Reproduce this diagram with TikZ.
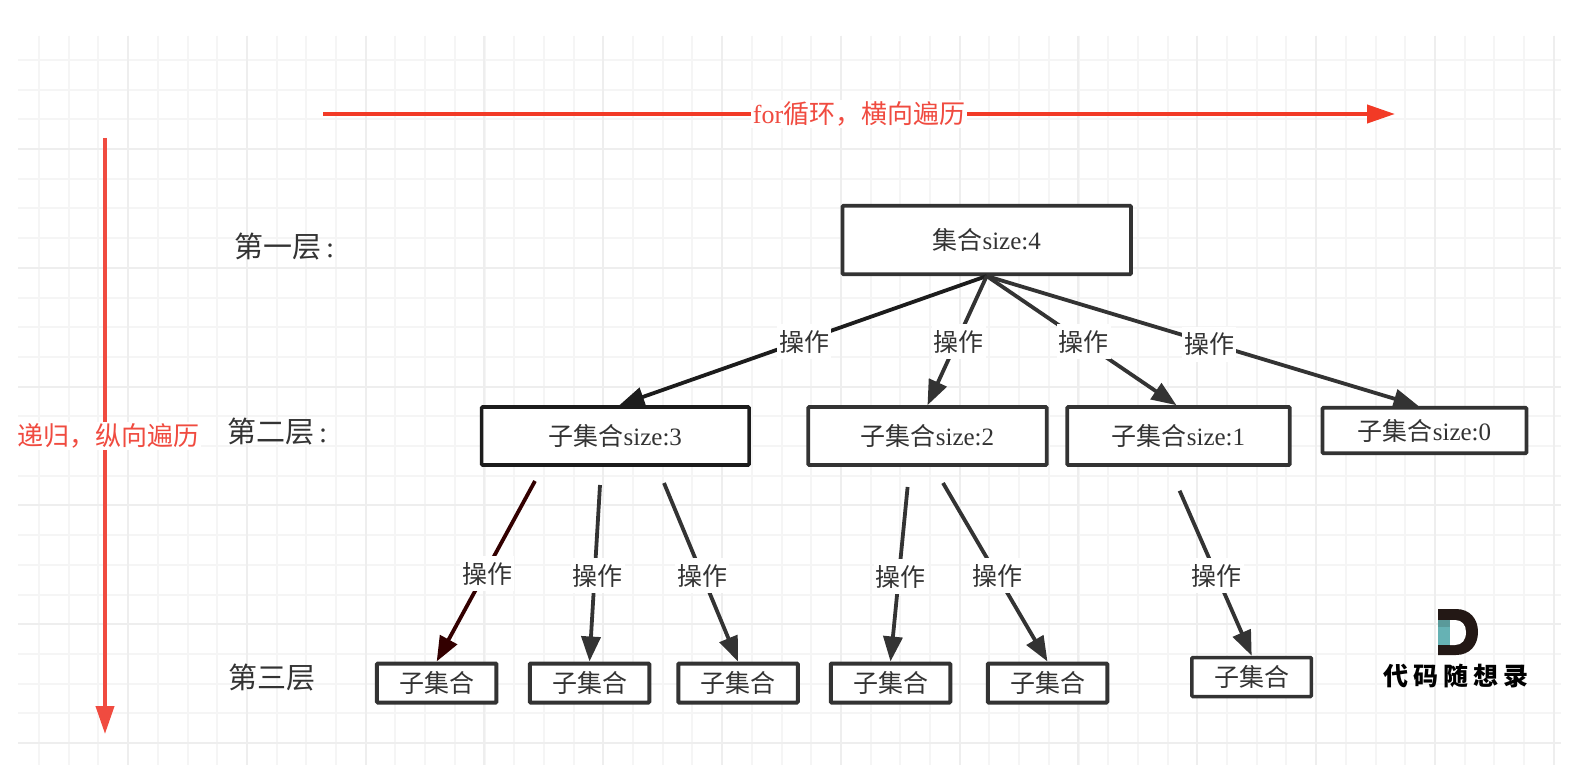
\documentclass[tikz,border=0pt]{standalone}
\usepackage{fontspec}
\setmainfont{Liberation Serif}
\newfontfamily\cjk{Noto Sans CJK SC}
\newfontfamily\logofont[LetterSpace=20]{Noto Sans CJK SC}
\usetikzlibrary{arrows.meta}
\definecolor{edgegray}{HTML}{333333}
\definecolor{edgedark}{HTML}{1C1C1C}
\definecolor{edgemaroon}{HTML}{330000}
\definecolor{redtop}{HTML}{F23A26}
\definecolor{redleft}{HTML}{F04B40}
\definecolor{gridfine}{HTML}{F5F5F5}
\definecolor{gridmajor}{HTML}{EEEEEE}
\definecolor{logodark}{HTML}{231815}
\definecolor{logoteal}{HTML}{66B2B4}
\definecolor{logotealdark}{HTML}{5A9A9A}
\begin{document}
\begin{tikzpicture}[
  x=1pt, y=-1pt,
  setbox/.style={draw=edgegray, fill=white, line width=3.6pt, rounded corners=1pt,
                 inner sep=0pt, text=edgegray, font=\fontsize{25}{28}\selectfont},
  leafbox/.style={setbox, line width=4pt, minimum width=119.5pt, minimum height=39pt},
  lbl/.style={fill=white, text=edgegray, inner sep=0pt, minimum width=54pt, minimum height=35pt,
              font=\fontsize{25}{28}\selectfont\cjk},
  layer/.style={anchor=west, inner sep=0pt, text=edgegray, font=\fontsize{29}{32}\selectfont},
  redlbl/.style={fill=white, inner sep=2pt, text=redleft, font=\fontsize{26}{28}\selectfont},
  arr/.style={-{Triangle[length=25pt,width=19pt]}, line width=3.8pt, draw=edgegray},
  redarr/.style={-{Triangle[length=28pt,width=18pt]}, line width=4pt},
]

\path[use as bounding box, fill=white] (0,0) rectangle (1572,778);

\foreach \gx in {39,68.7,...,1556}
  \draw[gridfine, line width=2pt] (\gx,36) -- (\gx,765);
\foreach \gy in {59.9,89.6,...,765}
  \draw[gridfine, line width=2pt] (18,\gy) -- (1561,\gy);
\foreach \gx in {128,246.8,...,1556}
  \draw[gridmajor, line width=2pt] (\gx,36) -- (\gx,765);
\foreach \gy in {149,267.8,...,765}
  \draw[gridmajor, line width=2pt] (18,\gy) -- (1561,\gy);

\coordinate (forstart) at (323,114);
\coordinate (forend) at (1395,114);
\coordinate (recstart) at (105,138);
\coordinate (recend) at (105,734);

\draw[redarr, draw=redtop, fill=redtop] (forstart) -- (forend)
  node[redlbl, midway] {for{\cjk 循环，横向遍历}};
\draw[redarr, draw=redleft, fill=redleft] (recstart) -- (recend)
  node[redlbl, midway, xshift=3pt] {\cjk 递归，纵向遍历};

\node[layer] (layer1) at (234,247) {{\cjk 第一层}\,:};
\node[layer] (layer2) at (227,432) {{\cjk 第二层}\,:};
\node[layer] (layer3) at (228,678) {\cjk 第三层};

\node[setbox, minimum width=288.5pt, minimum height=68.5pt] (root) at (986.7,240) {{\cjk 集合}size:4};

\node[setbox, draw=edgedark, minimum width=267.5pt, minimum height=58pt] (sub3) at (615.3,436) {{\cjk 子集合}size:3};
\node[setbox, minimum width=238.5pt, minimum height=58pt] (sub2) at (927.5,436) {{\cjk 子集合}size:2};
\node[setbox, minimum width=222.5pt, minimum height=58pt] (sub1) at (1178.5,436) {{\cjk 子集合}size:1};
\node[setbox, minimum width=204pt, minimum height=45.5pt] (sub0) at (1424.5,430.5) {{\cjk 子集合}size:0};

\node[leafbox] (leaf1) at (436.7,683) {\cjk 子集合};
\node[leafbox] (leaf2) at (589.5,683) {\cjk 子集合};
\node[leafbox] (leaf3) at (738,683) {\cjk 子集合};
\node[leafbox] (leaf4) at (890.5,683) {\cjk 子集合};
\node[leafbox] (leaf5) at (1047.5,683) {\cjk 子集合};
\node[leafbox, line width=3.5pt] (leaf6) at (1251.7,677) {\cjk 子集合};

\coordinate (s3a) at (535,481);
\coordinate (s3b) at (600,485);
\coordinate (s3c) at (664,483);
\coordinate (s2a) at (907.6,487);
\coordinate (s2b) at (943,483);
\coordinate (s1a) at (1179.6,490.7);

\draw[arr, draw=edgedark] (root.south) -- ([xshift=4pt]sub3.north) node[lbl, pos=.51, xshift=5pt] {操作};
\draw[arr] (root.south) -- (sub2.north) node[lbl, pos=.51, xshift=2pt] {操作};
\draw[arr] (root.south) -- ([xshift=-2pt]sub1.north) node[lbl, pos=.51] {操作};
\draw[arr] (root.south) -- ([xshift=-6pt]sub0.north) node[lbl, pos=.527, xshift=-5pt] {操作};

\draw[arr, draw=edgemaroon] (s3a) -- (leaf1.north) node[lbl, pos=.514, xshift=3pt] {操作};
\draw[arr] (s3b) -- (leaf2.north) node[lbl, pos=.514, xshift=3pt] {操作};
\draw[arr] (s3c) -- (leaf3.north) node[lbl, pos=.52] {操作};
\draw[arr] (s2a) -- (leaf4.north) node[lbl, pos=.514, xshift=2pt] {操作};
\draw[arr] (s2b) -- (leaf5.north) node[lbl, pos=.52] {操作};
\draw[arr] (s1a) -- (leaf6.north) node[lbl, pos=.516] {操作};

\fill[logodark] (1438,609) -- (1456,609) .. controls (1470,609) and (1478,619) .. (1478,632)
  .. controls (1478,645) and (1470,655) .. (1456,655) -- (1438,655) -- cycle;
\fill[white] (1450,620) -- (1455,620) .. controls (1462,620) and (1466,625) .. (1466,632)
  .. controls (1466,640) and (1462,645) .. (1455,645) -- (1450,645) -- cycle;
\fill[logoteal] (1438,620) rectangle (1450,645);
\fill[logotealdark] (1438,620) rectangle (1450,627);
\node[inner sep=0pt, text=black, font=\fontsize{25}{28}\selectfont\logofont\bfseries] (logotext) at (1456,676) {代码随想录};

\end{tikzpicture}
\end{document}
